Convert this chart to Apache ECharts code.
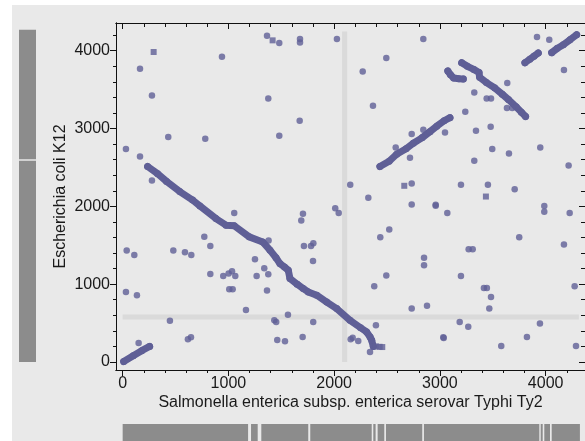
<!DOCTYPE html>
<html>
<head>
<meta charset="utf-8">
<script src="https://cdn.jsdelivr.net/npm/echarts@6/dist/echarts.min.js"></script>
<style>
  html, body { margin: 0; padding: 0; background: #ffffff; }
  #wrap { position: relative; width: 585px; height: 441px; background: #ffffff; overflow: hidden; }
  #panel { position: absolute; left: 12px; top: 5px; width: 573px; height: 436px; background: #e9e9e9; }
  #chart { position: absolute; left: 0; top: 0; width: 585px; height: 441px; }
</style>
</head>
<body>
<div id="wrap"><div id="panel"></div><div id="chart"></div></div>
<script>
// Axis ranges (gene index along each genome)
const typhiRange = [-63, 4372];
const k12Range = [-103, 4356];
const majorTicks = [0, 1000, 2000, 3000, 4000];
const minorTicks = [200, 400, 600, 800, 1200, 1400, 1600, 1800, 2200, 2400, 2600, 2800, 3200, 3400, 3600, 3800, 4200];

const xTitle = 'Salmonella enterica subsp. enterica serovar Typhi Ty2';
const yTitle = 'Escherichia coli K12';

// Dense syntenic runs of orthologous genes [Typhi, K12]
const runA = [[10, 5], [100, 80], [180, 145], [255, 200]];
const runB = [[236, 2512], [330, 2420], [416, 2319], [540, 2190], [662, 2080], [731, 2005], [882, 1843], [977, 1758],
  [1055, 1750], [1197, 1608], [1324, 1543], [1393, 1437], [1450, 1340], [1487, 1264], [1530, 1220], [1566, 1179],
  [1582, 1072], [1650, 1000], [1708, 943], [1755, 900], [1835, 858], [1930, 770], [2024, 686], [2150, 536],
  [2250, 440], [2307, 386], [2340, 320], [2355, 279], [2370, 200]];
const runC = [[2433, 2512], [2520, 2580], [2591, 2670], [2680, 2740], [2748, 2810], [2830, 2880], [2906, 2960],
  [2970, 3030], [3040, 3100], [3095, 3140]];
const runD = [[3075, 3740], [3100, 3690], [3130, 3650], [3180, 3640], [3221, 3636]];
const runE = [[3206, 3845], [3260, 3800], [3320, 3760], [3370, 3720], [3375, 3660], [3440, 3590], [3520, 3520],
  [3590, 3440], [3650, 3370], [3720, 3280], [3770, 3210], [3810, 3155]];
const runF = [[3804, 3845], [3850, 3890], [3890, 3930], [3930, 3970]];
const runG = [[4057, 3975], [4110, 4030], [4167, 4077], [4230, 4140], [4293, 4206]];

// Scattered single orthologs [Typhi, K12]
const singles = [
  [1365, 4193], [939, 3923], [164, 3768], [277, 3425], [1377, 3387], [431, 2890], [781, 2868], [31, 2736],
  [164, 2641], [277, 2332], [1481, 4099], [1677, 4151], [1677, 4107], [2026, 4151], [2843, 4151], [2493, 3906],
  [2270, 3734], [1674, 3100], [1481, 2907], [2367, 3293], [2152, 2277], [2323, 2110], [2733, 2293],
  [2582, 2757], [2733, 2929], [2717, 2624], [2843, 2984],
  [3918, 4176], [4034, 4141], [4173, 3751], [3637, 3584], [3325, 3464], [3442, 3387], [3483, 3387], [3240, 3215],
  [3048, 2949], [3341, 2971], [3480, 3022], [3495, 2736], [3653, 2679], [3949, 2757], [3325, 2585], [4217, 2525],
  [3199, 2277], [3454, 2277], [3707, 2221], [3634, 3263], [3684, 3263],
  [2960, 2020], [2960, 2008], [3070, 1913], [3987, 2006], [3987, 1929], [4227, 1913], [3750, 1604], [4173, 1509],
  [2850, 1341], [2850, 1244], [3272, 1450], [3310, 1450], [3199, 1106], [3416, 952], [3444, 952], [3483, 836],
  [4274, 974], [2878, 724], [3467, 686], [3187, 514], [3268, 454], [3946, 493], [3032, 318], [3036, 308],
  [3823, 322], [3580, 206], [4287, 206],
  [2733, 2023], [2010, 1977], [2043, 1913], [1705, 1904], [1689, 1817], [2521, 1702], [2436, 1604], [1714, 1492],
  [1781, 1492], [1803, 1527], [1800, 1299], [2493, 1110], [2379, 974], [2733, 686],
  [1434, 536], [1452, 514], [1563, 608], [1802, 514], [1462, 283], [1535, 266], [1702, 322], [2395, 472],
  [2156, 292], [2175, 313], [2228, 270], [2339, 129],
  [1055, 1916], [772, 1608], [829, 1492], [38, 1432], [110, 1376], [479, 1432], [589, 1411], [649, 1376],
  [829, 1132], [951, 1106], [1002, 1136], [1034, 1167], [1065, 1106], [1008, 935], [1040, 935], [31, 900],
  [135, 858], [1251, 1321], [1339, 1205], [1267, 1106], [1377, 1128], [1365, 917], [1166, 669], [447, 531],
  [617, 292], [646, 318], [151, 244], [1380, 1560]
];
// Orthologs drawn with square markers
const squares = [[293, 3983], [1418, 4133], [2663, 2264], [3435, 2126], [2395, 200], [2430, 195], [2455, 192]];

// Guide lines
const vGuide = [[2099, 0], [2099, 4248]];
const hGuide = [[0, 579], [4314, 579]];

// Contig tracks: [start, end]
const k12Contigs = [[0, 2585], [2605, 4270]];
const typhiContigs = [[0, 1186], [1214, 1277], [1311, 1755], [1774, 2355], [2370, 2392], [2411, 2474],
  [2490, 2833], [2849, 3940], [3953, 3972], [3987, 4041], [4057, 4324]];

const FONT = '"Liberation Sans", Arial, sans-serif';
const INK = '#111111';
const DOT = '#5f5f96';
const TRACK = '#8c8c8c';

function frameAxis(pos, gridIndex, range, ticks, tickLen, inward, withLabels) {
  return {
    type: 'value', gridIndex: gridIndex, position: pos, min: range[0], max: range[1],
    axisLine: { show: true, onZero: false, lineStyle: { color: INK, width: 1 } },
    axisTick: { show: true, inside: inward, length: tickLen, customValues: ticks, lineStyle: { color: INK, width: 1 } },
    axisLabel: withLabels
      ? { show: true, customValues: ticks, margin: 6, fontSize: 16, fontFamily: FONT, color: '#1a1a1a',
          formatter: function (v) { return String(v); } }
      : { show: false },
    splitLine: { show: false }
  };
}
function hiddenAxis(gridIndex, range) {
  return { type: 'value', gridIndex: gridIndex, min: range[0], max: range[1], show: false,
    axisLine: { onZero: false }, splitLine: { show: false } };
}

const xAxes = [
  frameAxis('bottom', 0, typhiRange, majorTicks, 6, false, true),
  frameAxis('bottom', 0, typhiRange, minorTicks, 3, false, false),
  frameAxis('top', 0, typhiRange, majorTicks, 6, true, false),
  frameAxis('top', 0, typhiRange, minorTicks, 4, true, false),
  hiddenAxis(1, [0, 1]),
  hiddenAxis(2, typhiRange)
];
Object.assign(xAxes[0], {
  name: xTitle, nameLocation: 'middle', nameGap: 25, nameMoveOverlap: false,
  nameTextStyle: { fontSize: 16, fontFamily: FONT, color: '#1a1a1a' }
});
const yAxes = [
  frameAxis('left', 0, k12Range, majorTicks, 6, false, true),
  frameAxis('left', 0, k12Range, minorTicks, 3, false, false),
  frameAxis('right', 0, k12Range, majorTicks, 6, true, false),
  frameAxis('right', 0, k12Range, minorTicks, 4, true, false),
  hiddenAxis(1, k12Range),
  hiddenAxis(2, [0, 1])
];
Object.assign(yAxes[0], {
  name: yTitle, nameLocation: 'middle', nameGap: 47, nameMoveOverlap: false,
  nameTextStyle: { fontSize: 16, fontFamily: FONT, color: '#1a1a1a' }
});

function runSeries(data) {
  return {
    type: 'line', xAxisIndex: 0, yAxisIndex: 0, data: data, z: 3,
    showSymbol: true, symbol: 'circle', symbolSize: 7,
    itemStyle: { color: DOT },
    lineStyle: { color: DOT, width: 7, cap: 'round', join: 'round' },
    silent: true
  };
}
function guideSeries(data) {
  return {
    type: 'line', xAxisIndex: 0, yAxisIndex: 0, data: data, z: 1, showSymbol: false, symbol: 'none',
    lineStyle: { color: '#dadada', width: 5, cap: 'butt' }, silent: true
  };
}

const option = {
  animation: false,
  textStyle: { fontFamily: FONT },
  grid: [
    { left: 116, right: 0, top: 23, height: 347, containLabel: false, outerBoundsMode: 'none' },
    { left: 19, width: 17, top: 23, height: 347, containLabel: false, outerBoundsMode: 'none' },
    { left: 116, right: 0, top: 424, height: 40, containLabel: false, outerBoundsMode: 'none' }
  ],
  xAxis: xAxes,
  yAxis: yAxes,
  series: [
    guideSeries(vGuide),
    guideSeries(hGuide),
    runSeries(runA), runSeries(runB), runSeries(runC), runSeries(runD),
    runSeries(runE), runSeries(runF), runSeries(runG),
    {
      type: 'scatter', xAxisIndex: 0, yAxisIndex: 0, data: singles, z: 4,
      symbol: 'circle', symbolSize: 6.5, itemStyle: { color: DOT }, silent: true
    },
    {
      type: 'scatter', xAxisIndex: 0, yAxisIndex: 0, data: squares, z: 4,
      symbol: 'rect', symbolSize: 6, itemStyle: { color: DOT }, silent: true
    },
    {
      type: 'custom', xAxisIndex: 4, yAxisIndex: 4, data: k12Contigs, clip: false, silent: true,
      renderItem: function (params, api) {
        const p0 = api.coord([0, api.value(0)]);
        const p1 = api.coord([1, api.value(1)]);
        return { type: 'rect', shape: { x: p0[0], y: p1[1], width: p1[0] - p0[0], height: p0[1] - p1[1] },
          style: { fill: TRACK } };
      }
    },
    {
      type: 'custom', xAxisIndex: 5, yAxisIndex: 5, data: typhiContigs, clip: false, silent: true,
      renderItem: function (params, api) {
        const p0 = api.coord([api.value(0), 0]);
        const p1 = api.coord([api.value(1), 1]);
        return { type: 'rect', shape: { x: p0[0], y: p1[1], width: p1[0] - p0[0], height: p0[1] - p1[1] },
          style: { fill: TRACK } };
      }
    }
  ]
};

const chart = echarts.init(document.getElementById('chart'), null, { renderer: 'canvas' });
chart.setOption(option);
</script>
</body>
</html>
